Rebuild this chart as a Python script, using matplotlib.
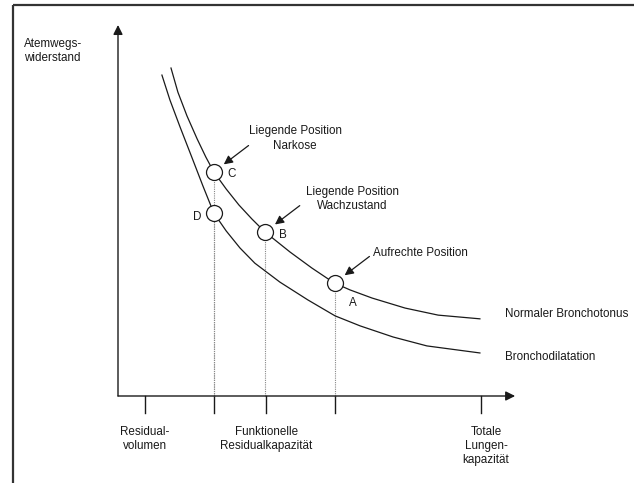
import matplotlib
matplotlib.use("Agg")
import matplotlib.pyplot as plt

plt.rcParams['font.family'] = ['Liberation Sans', 'DejaVu Sans']

# Kurven (Lungenvolumen, Atemwegswiderstand) in willkuerlichen Einheiten
normal_x = [1.46, 1.65, 1.90, 2.18, 2.42, 2.64, 2.98, 3.33, 3.69, 4.05,
            4.74, 5.34, 5.95, 6.39, 7.00, 7.91, 8.82, 9.97]
normal_y = [8.84, 8.19, 7.55, 6.93, 6.44, 6.04, 5.58, 5.15, 4.77, 4.42,
            3.88, 3.45, 3.05, 2.86, 2.64, 2.37, 2.18, 2.08]
dilat_x = [1.21, 1.43, 1.71, 2.04, 2.34, 2.64, 2.98, 3.36, 3.77, 4.46,
           5.23, 5.98, 6.67, 7.58, 8.51, 9.97]
dilat_y = [8.65, 7.98, 7.25, 6.42, 5.66, 4.93, 4.45, 3.99, 3.58, 3.07,
           2.59, 2.16, 1.89, 1.59, 1.35, 1.16]

# Messpunkte A-D
point_names = ['C', 'D', 'B', 'A']
point_x = [2.64, 2.64, 4.05, 5.97]
point_y = [6.04, 4.93, 4.42, 3.05]

# Markierungen auf der Volumenachse
tick_x = [0.74, 2.64, 4.08, 5.98, 10.0]
tick_labels = {0.74: 'Residual-\nvolumen',
               4.08: 'Funktionelle\nResidualkapazität',
               10.14: 'Totale\nLungen-\nkapazität'}

fig = plt.figure(figsize=(6.34, 4.83), dpi=100)
ax = fig.add_axes([0, 0, 1, 1])
ax.set_xlim(-118 / 36.3, 516 / 36.3)
ax.set_ylim(-87 / 37.1, 396 / 37.1)
ax.axis('off')

ink = '#1a1a1a'

# Rahmen (oben und links)
ax.plot([13 / 634, 1], [1 - 5 / 483, 1 - 5 / 483], transform=ax.transAxes,
        color='#333333', lw=1.6, solid_capstyle='butt', clip_on=False)
ax.plot([13 / 634, 13 / 634], [0, 1 - 5 / 483], transform=ax.transAxes,
        color='#333333', lw=1.6, solid_capstyle='butt', clip_on=False)

# Achsen mit Pfeilen
ax.annotate('', xy=(0, 10.0), xytext=(0, 0),
            arrowprops=dict(arrowstyle='-|>', color=ink, lw=1.0,
                            mutation_scale=14, shrinkA=0, shrinkB=0))
ax.annotate('', xy=(10.94, 0), xytext=(0, 0),
            arrowprops=dict(arrowstyle='-|>', color=ink, lw=1.0,
                            mutation_scale=14, shrinkA=0, shrinkB=0))

for tx in tick_x:
    ax.plot([tx, tx], [0, -0.46], color=ink, lw=1.0)

# gepunktete Hilfslinien
for px, py in zip(point_x, point_y):
    ax.plot([px, px], [0, py], color='#888888', lw=0.8, ls=(0, (1, 1)))

# Kurven
ax.plot(normal_x, normal_y, color=ink, lw=0.9, solid_joinstyle='round')
ax.plot(dilat_x, dilat_y, color=ink, lw=0.9, solid_joinstyle='round')

ax.plot(point_x, point_y, 'o', ms=11.5, mfc='white', mec=ink, mew=0.9, zorder=5)

fs = 8.4
letter_off = {'C': (18, -2), 'D': (-17, -4), 'B': (18, -3), 'A': (18, -20)}
for name, px, py in zip(point_names, point_x, point_y):
    dx, dy = letter_off[name]
    ax.annotate(name, xy=(px, py), xytext=(dx * 0.72, dy * 0.72),
                textcoords='offset points', ha='center', va='center',
                fontsize=fs, color=ink)

# Pfeile auf C, B, A
for name in ['C', 'B', 'A']:
    i = point_names.index(name)
    ax.annotate('', xy=(point_x[i], point_y[i]), xytext=(25, 19),
                textcoords='offset points',
                arrowprops=dict(arrowstyle='-|>', color=ink, lw=0.9,
                                mutation_scale=13, shrinkA=0, shrinkB=9))

# Beschriftungen
ax.text(-2.59, 9.30, 'Atemwegs-\nwiderstand', ha='left', va='center',
        fontsize=fs, color=ink, linespacing=1.25)
ax.text(4.88, 6.94, 'Liegende Position\nNarkose', ha='center', va='center',
        fontsize=fs, color=ink, linespacing=1.25)
ax.text(6.45, 5.31, 'Liegende Position\nWachzustand', ha='center', va='center',
        fontsize=fs, color=ink, linespacing=1.25)
ax.text(7.02, 3.85, 'Aufrechte Position', ha='left', va='center',
        fontsize=fs, color=ink)
ax.text(10.66, 2.21, 'Normaler Bronchotonus', ha='left', va='center',
        fontsize=fs, color=ink)
ax.text(10.66, 1.05, 'Bronchodilatation', ha='left', va='center',
        fontsize=fs, color=ink)

for lx, lab in tick_labels.items():
    ax.text(lx, -0.80, lab, ha='center', va='top', fontsize=fs,
            color=ink, linespacing=1.25)

fig.savefig('out.png', dpi=100, facecolor='white')
